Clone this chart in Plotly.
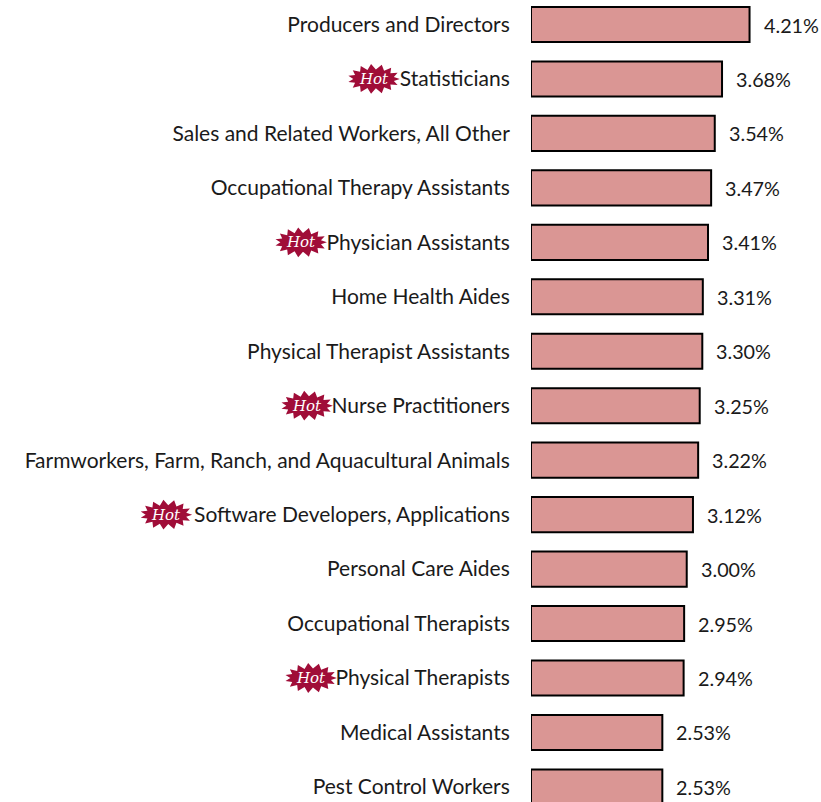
import math
import plotly.graph_objects as go

occupations = ["Producers and Directors", "Statisticians", "Sales and Related Workers, All Other",
               "Occupational Therapy Assistants", "Physician Assistants", "Home Health Aides",
               "Physical Therapist Assistants", "Nurse Practitioners",
               "Farmworkers, Farm, Ranch, and Aquacultural Animals",
               "Software Developers, Applications", "Personal Care Aides", "Occupational Therapists",
               "Physical Therapists", "Medical Assistants", "Pest Control Workers"]
growth = [4.21, 3.68, 3.54, 3.47, 3.41, 3.31, 3.30, 3.25, 3.22, 3.12, 3.00, 2.95, 2.94, 2.53, 2.53]
hot_occupations = ["Statisticians", "Physician Assistants", "Nurse Practitioners",
                   "Software Developers, Applications", "Physical Therapists"]
hot_badge_px = [373, 300, 306, 165, 310]

W, H = 821, 802
LEFT = 530.5
PX_PER_UNIT = 52.0
ROW = 54.46
TOP_CENTER = 24.5
FONT = "Lato"
INK = "#1a1a1a"

fig = go.Figure(go.Bar(
    x=growth, y=occupations, orientation="h", width=0.645,
    marker=dict(color="#DA9694", line=dict(color="#000000", width=2)),
    hoverinfo="skip",
))

annotations = [dict(x=v, y=c, xref="x", yref="y", text=f"{v:.2f}%", showarrow=False,
                    xanchor="left", xshift=12, yshift=0,
                    font=dict(family=FONT, size=19.8, color=INK))
               for c, v in zip(occupations, growth)]


def burst(n=15, rx=26, ry=15, rix=20.5, riy=9.5):
    pts = []
    for k in range(2 * n):
        a = math.pi * k / n
        sx, sy = (rx, ry) if k % 2 == 0 else (rix, riy)
        pts.append((sx * math.cos(a), sy * math.sin(a)))
    return "M " + " L ".join(f"{x:.1f} {y:.1f}" for x, y in pts) + " Z"


shapes = []
for name, px in zip(hot_occupations, hot_badge_px):
    pos = (px - LEFT) / (W - LEFT)
    shapes.append(dict(type="path", xref="paper", yref="y", xsizemode="pixel", ysizemode="pixel",
                       xanchor=pos, yanchor=name, path=burst(),
                       fillcolor="#A00D38", line=dict(width=0)))
    annotations.append(dict(x=pos, y=name, xref="paper", yref="y", text="<i>Hot</i>",
                            showarrow=False, xanchor="center",
                            font=dict(family="DejaVu Serif", size=15, color="#ffffff")))

fig.update_layout(
    width=W, height=H, autosize=False,
    margin=dict(l=LEFT, r=0, t=0, b=0, pad=0),
    paper_bgcolor="#ffffff", plot_bgcolor="#ffffff",
    showlegend=False,
    xaxis=dict(range=[0, (W - LEFT) / PX_PER_UNIT], visible=False, fixedrange=True),
    yaxis=dict(type="category", categoryorder="array", categoryarray=occupations,
               range=[(H - TOP_CENTER) / ROW, -TOP_CENTER / ROW],
               showgrid=False, zeroline=False, showline=False,
               ticks="outside", ticklen=16, tickcolor="rgba(0,0,0,0)",
               tickfont=dict(family=FONT, size=21, color=INK), fixedrange=True),
    annotations=annotations, shapes=shapes,
)
fig.write_html("out.html", config=dict(displayModeBar=False),
               post_script="document.body.style.margin='0';document.body.style.overflow='hidden';")
